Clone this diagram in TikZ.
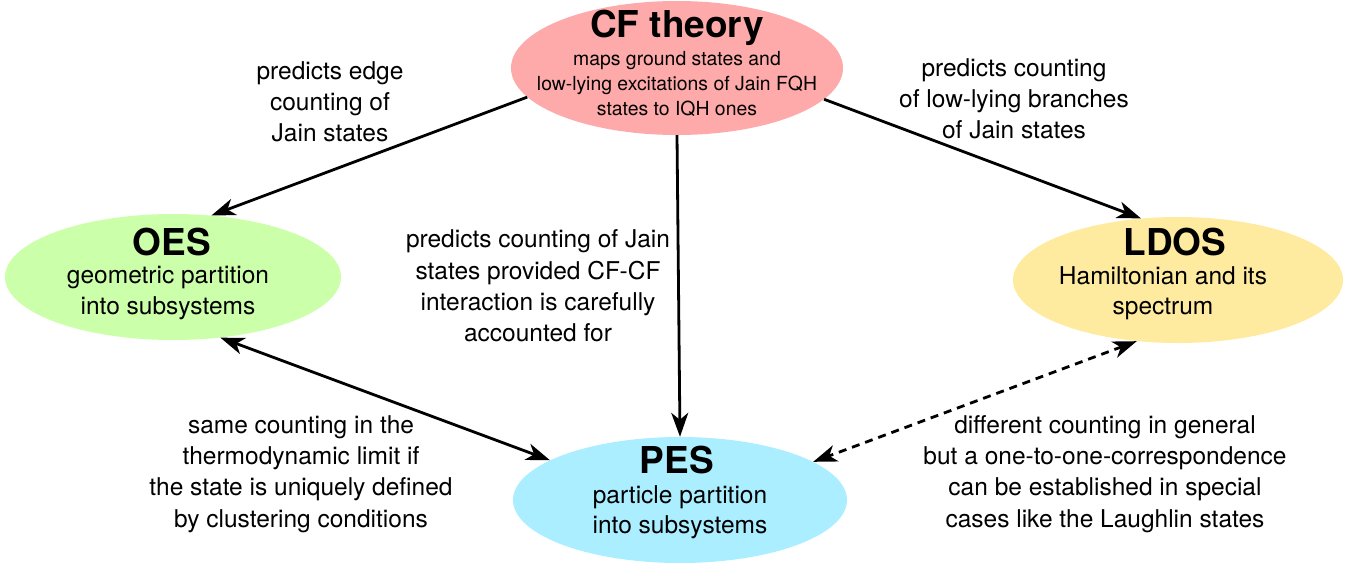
\documentclass[tikz,border=0pt]{standalone}
\usepackage{fontspec}
\setmainfont{TeX Gyre Heros}
\usetikzlibrary{arrows.meta,shapes.geometric}
\definecolor{cfcol}{RGB}{255,170,170}
\definecolor{oescol}{RGB}{204,255,170}
\definecolor{ldoscol}{RGB}{255,235,160}
\definecolor{pescol}{RGB}{170,238,255}
\begin{document}
\begin{tikzpicture}[x=1pt,y=-1pt,
  blob/.style={ellipse,draw=none,inner sep=0pt,minimum width=334pt,minimum height=126pt},
  ttl/.style={font=\fontsize{37}{40}\selectfont\bfseries,inner sep=0pt},
  body/.style={font=\fontsize{24.5}{30.5}\selectfont,align=center,inner sep=0pt},
  small/.style={font=\fontsize{19.4}{24.8}\selectfont,align=center,inner sep=0pt},
  lbl/.style={font=\fontsize{24.5}{31.2}\selectfont,align=center,inner sep=0pt},
  conn/.style={line width=2.8pt,-{Stealth[length=24pt,width=17pt,inset=7pt]}},
  bconn/.style={line width=2.8pt,{Stealth[length=24pt,width=17pt,inset=7pt]}-{Stealth[length=24pt,width=17pt,inset=7pt]}},
]
\useasboundingbox (0,0) rectangle (1359,568);
\node[blob,fill=cfcol,minimum width=332pt,minimum height=134pt] (cf) at (677,68) {};
\node[blob,fill=oescol,minimum width=336pt] (oes) at (173,277) {};
\node[blob,fill=ldoscol,minimum width=330pt] (ldos) at (1178,280) {};
\node[blob,fill=pescol] (pes) at (680,500) {};

\node[ttl] (cft) at (677,28) {CF theory};
\node[small] (cfb) at (677,84) {maps ground states and\\low-lying excitations of Jain FQH\\states to IQH ones};
\node[ttl] (oest) at (172,242) {OES};
\node[body] (oesb) at (168,293) {geometric partition\\into subsystems};
\node[ttl] (ldost) at (1175,242) {LDOS};
\node[body] (ldosb) at (1163,293) {Hamiltonian and its\\spectrum};
\node[ttl] (pest) at (677,460) {PES};
\node[body] (pesb) at (680,512) {particle partition\\into subsystems};

\node[lbl] (l1) at (330,102) {predicts edge\\counting of\\Jain states};
\node[lbl] (l2) at (1014,99) {predicts counting\\of low-lying branches\\of Jain states};
\node[lbl] (l3) at (538,286) {predicts counting of Jain\\states provided CF-CF\\interaction is carefully\\accounted for};
\node[lbl] (l4) at (301,474) {same counting in the\\thermodynamic limit if\\the state is uniquely defined\\by clustering conditions};
\node[lbl] (l5) at (1105,474) {different counting in general\\but a one-to-one-correspondence\\can be established in special\\cases like the Laughlin states};

\draw[conn] (cf.191) -- (oes.58);
\draw[conn] (cf.348) -- (ldos.121);
\draw[conn] (cf.270) -- (pes.90);
\draw[bconn] (oes.308) -- (pes.163.5);
\draw[bconn,dash pattern=on 8pt off 6pt] (ldos.236) -- (pes.16);
\end{tikzpicture}
\end{document}
